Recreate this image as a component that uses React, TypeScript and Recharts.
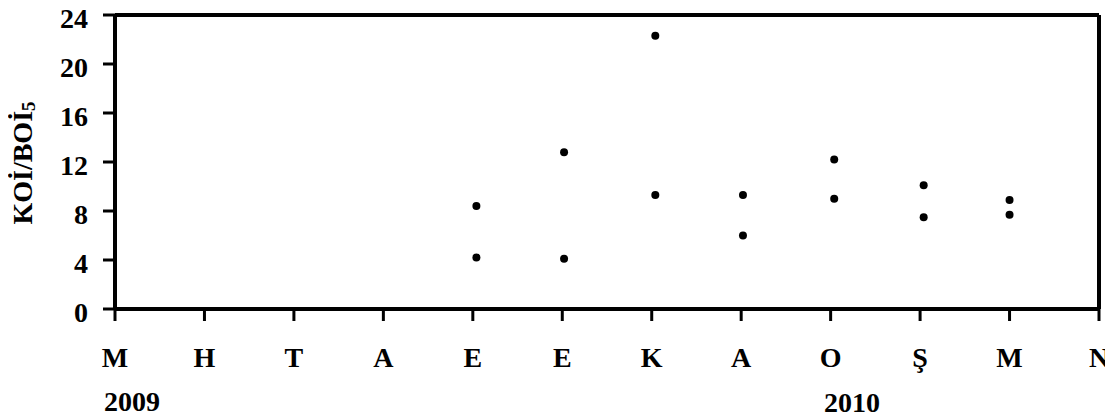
import React from 'react';
import { ScatterChart, Scatter, XAxis, YAxis, ReferenceLine } from 'recharts';

const monthLabels = ['M', 'H', 'T', 'A', 'E', 'E', 'K', 'A', 'O', 'Ş', 'M', 'N'];
const samplePos = [4.04, 5.02, 6.04, 7.02, 8.04, 9.04, 10.0];
const seriesUpper = [8.4, 12.8, 22.3, 9.3, 12.2, 10.1, 8.9];
const seriesLower = [4.2, 4.1, 9.3, 6.0, 9.0, 7.5, 7.7];
const yTicks = [0, 4, 8, 12, 16, 20, 24];
const xTicks = [0, 1, 2, 3, 4, 5, 6, 7, 8, 9, 10, 11];
const yearLabels = ['2009', '2010'];

const upperData = samplePos.map((x, i) => ({ x, y: seriesUpper[i] }));
const lowerData = samplePos.map((x, i) => ({ x, y: seriesLower[i] }));

const FONT = '"Liberation Serif", "Times New Roman", serif';
const FS = 28;
const AXIS_W = 4;

const Dot = (props: any) => {
  const { cx, cy } = props;
  if (cx == null || cy == null) return null;
  return <circle cx={cx} cy={cy} r={4} fill="#000" />;
};

const YLabel = () => (
  <text
    x={22}
    y={163}
    transform="rotate(-90 22 163)"
    textAnchor="middle"
    dominantBaseline="central"
    fontFamily={FONT}
    fontSize={FS}
    fontWeight="bold"
    fill="#000"
  >
    KOİ/BOİ
    <tspan fontSize={19} dy={6}>5</tspan>
  </text>
);

const YearLabels = () => (
  <g fontFamily={FONT} fontSize={FS} fontWeight="bold" fill="#000">
    <text x={132} y={411} textAnchor="middle">{yearLabels[0]}</text>
    <text x={852} y={412} textAnchor="middle">{yearLabels[1]}</text>
  </g>
);

const tickStyle = { fontFamily: FONT, fontSize: FS, fontWeight: 'bold', fill: '#000' } as any;

const YTick = (props: any) => {
  const { x, y, payload } = props;
  return (
    <text
      x={x}
      y={y + 3}
      dy="0.355em"
      textAnchor="end"
      fontFamily={FONT}
      fontSize={FS}
      fontWeight="bold"
      fill="#000"
    >
      {payload.value}
    </text>
  );
};

export default function App() {
  return (
    <div style={{ margin: -8, width: 1113, height: 420 }}>
      <ScatterChart
        width={1113}
        height={420}
        margin={{ top: 15, right: 14, bottom: 0, left: 0 }}
      >
        <XAxis
          type="number"
          dataKey="x"
          domain={[0, 11]}
          ticks={xTicks}
          interval={0}
          tickFormatter={(v: number) => monthLabels[v] ?? ''}
          height={111}
          tickSize={12}
          tickMargin={26}
          axisLine={{ stroke: '#000', strokeWidth: AXIS_W }}
          tickLine={{ stroke: '#000', strokeWidth: 3 }}
          tick={tickStyle}
          label={<YearLabels />}
        />
        <YAxis
          type="number"
          dataKey="y"
          domain={[0, 24]}
          ticks={yTicks}
          interval={0}
          width={115}
          tickSize={12}
          tickMargin={15}
          axisLine={{ stroke: '#000', strokeWidth: AXIS_W }}
          tickLine={{ stroke: '#000', strokeWidth: 3 }}
          tick={<YTick />}
          label={<YLabel />}
        />
        <ReferenceLine y={24} stroke="#000" strokeWidth={AXIS_W} />
        <ReferenceLine x={11} stroke="#000" strokeWidth={AXIS_W} />
        <Scatter data={upperData} fill="#000" shape={<Dot />} isAnimationActive={false} />
        <Scatter data={lowerData} fill="#000" shape={<Dot />} isAnimationActive={false} />
      </ScatterChart>
    </div>
  );
}
